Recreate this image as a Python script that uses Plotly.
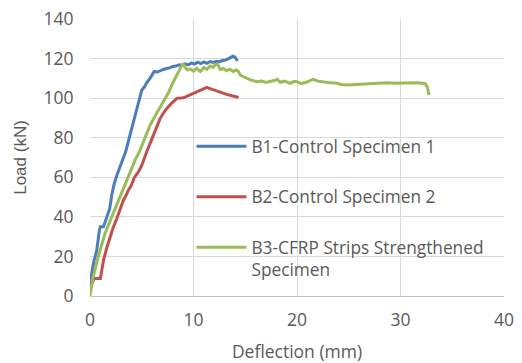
import plotly.graph_objects as go

# B1-Control Specimen 1
b1_x = [0, 0.15, 0.35, 0.65, 0.9, 1.0, 1.3, 1.6, 1.9, 2.1, 2.35, 2.6, 2.9, 3.2, 3.35, 3.45, 3.7, 3.9, 4.1, 4.35,
        4.6, 4.8, 5.0, 5.3, 5.5, 5.8, 6.0, 6.2, 6.5, 6.8, 7.1, 7.4, 7.7, 8.0, 8.3, 8.6, 8.9, 9.2, 9.5, 9.8,
        10.1, 10.4, 10.7, 11.0, 11.3, 11.6, 11.9, 12.2, 12.5, 12.8, 13.1, 13.4, 13.6, 13.8, 14.0, 14.1, 14.25]
b1_y = [3, 11, 17, 23, 33, 35, 35, 40, 44, 51, 57, 61, 65, 70, 72, 73, 78, 82, 87, 92,
        97, 101, 104, 106, 108, 110, 112, 113.5, 113.2, 114, 114.5, 115, 115.3, 116, 116.2, 116.8, 116.5, 117.3, 116.8, 117.8,
        117.2, 118.2, 117.5, 118.3, 117.6, 118.5, 118.0, 118.6, 118.4, 119.0, 119.3, 120.0, 120.6, 121.2, 120.8, 119.8, 118.8]

# B2-Control Specimen 2
b2_x = [0, 0.2, 0.4, 1.0, 1.3, 1.6, 1.94, 2.2, 2.58, 2.9, 3.23, 3.5, 3.71, 4.0, 4.3, 4.68, 5.0, 5.49, 5.8, 6.13,
        6.45, 6.78, 7.1, 7.42, 7.9, 8.39, 9.03, 9.5, 10.0, 10.6, 11.29, 11.6, 11.94, 12.5, 13.2, 13.8, 14.36]
b2_y = [4.5, 7, 8.8, 8.8, 18, 24, 30, 34, 39, 44, 48.4, 51, 53.5, 56, 60, 62.8, 66, 73, 77, 81.3,
        86, 89.8, 92.5, 94.8, 97.5, 99.9, 100.2, 101.2, 102.4, 103.8, 105.4, 104.8, 104.1, 103, 101.9, 101.1, 100.4]

# B3-CFRP Strips Strengthened Specimen
b3_x = [0, 0.3, 0.8, 1.45, 2.1, 2.74, 3.4, 4.03, 4.36, 4.84, 5.3, 5.81, 6.4, 7.1, 7.6, 8.06, 8.5, 8.87, 8.97, 9.2,
        9.4, 9.7, 10.0, 10.3, 10.65, 11.0, 11.29, 11.6, 11.9, 12.1, 12.3, 12.58, 12.9, 13.2, 13.5, 13.87, 14.1, 14.36, 14.5, 14.84,
        15.5, 16.1, 16.6, 17.0, 17.4, 17.8, 18.07, 18.4, 18.8, 19.36, 19.7, 20.0, 20.4, 20.9, 21.3, 21.6, 22.0, 22.5, 23.2, 23.8,
        24.3, 24.85, 25.5, 26.5, 27.2, 28.0, 28.7, 29.5, 30.3, 31.3, 31.9, 32.4, 32.6, 32.75]
b3_y = [0, 9.6, 20, 31.6, 40, 48.4, 57, 65.3, 68.7, 73.7, 80, 86.4, 92, 98.2, 103, 108.3, 112.5, 116.7, 117.6, 115.5,
        114.2, 114.8, 113.6, 115.2, 113.4, 115.5, 114.6, 116.2, 115.6, 116.9, 117.3, 114.5, 115.0, 113.8, 114.6, 113.4, 114.3, 113.4, 111.7, 110.8,
        109.2, 108.3, 108.6, 107.9, 108.3, 108.9, 109.5, 108.0, 108.6, 107.5, 108.5, 108.3, 107.3, 108.0, 109.0, 109.5, 108.6, 108.2, 107.8, 107.6,
        106.9, 106.6, 106.8, 107.0, 107.2, 107.5, 107.8, 107.5, 107.7, 107.8, 107.6, 107.3, 105.5, 101.6]

names = ["B1-Control Specimen 1", "B2-Control Specimen 2", "B3-CFRP Strips Strengthened<br>Specimen"]
colors = ["#4A7EBB", "#C0504D", "#9BBB59"]
x_ticks = [0, 10, 20, 30, 40]
y_ticks = [0, 20, 40, 60, 80, 100, 120, 140]

fig = go.Figure()
for i, (xs, ys) in enumerate([(b1_x, b1_y), (b2_x, b2_y), (b3_x, b3_y)]):
    fig.add_trace(go.Scatter(x=xs, y=ys, mode="lines", name=names[i], legendgroup=str(i),
                             line=dict(color=colors[i], width=3)))

tick_font = dict(family="Open Sans", size=17.5, color="#595959")
fig.update_layout(
    width=522, height=363,
    margin=dict(l=90, r=18, t=19, b=67),
    paper_bgcolor="white", plot_bgcolor="white",
    showlegend=True,
    legend=dict(x=0.245, y=0.605, xanchor="left", yanchor="top", bgcolor="rgba(0,0,0,0)",
                font=dict(family="Open Sans", size=17.3, color="#595959"),
                tracegroupgap=25, valign="top", itemwidth=50),
    xaxis=dict(range=[0, 40], tickvals=x_ticks, showgrid=True, gridcolor="#d9d9d9", gridwidth=1,
               zeroline=False, showline=True, linecolor="#bfbfbf", linewidth=1, automargin=False,
               ticks="outside", ticklen=8, tickcolor="rgba(0,0,0,0)", tickfont=tick_font,
               title=dict(text="Deflection (mm)", font=dict(family="Open Sans", size=17.5, color="#595959"), standoff=16)),
    yaxis=dict(range=[0, 140], tickvals=y_ticks, showgrid=True, gridcolor="#d9d9d9", gridwidth=1,
               zeroline=False, showline=False, automargin=False,
               ticks="outside", ticklen=12, tickcolor="rgba(0,0,0,0)", tickfont=tick_font,
               title=dict(text="Load (kN)", font=dict(family="Liberation Sans", size=17, color="#595959"), standoff=12)),
)
fig.write_html("out.html")
